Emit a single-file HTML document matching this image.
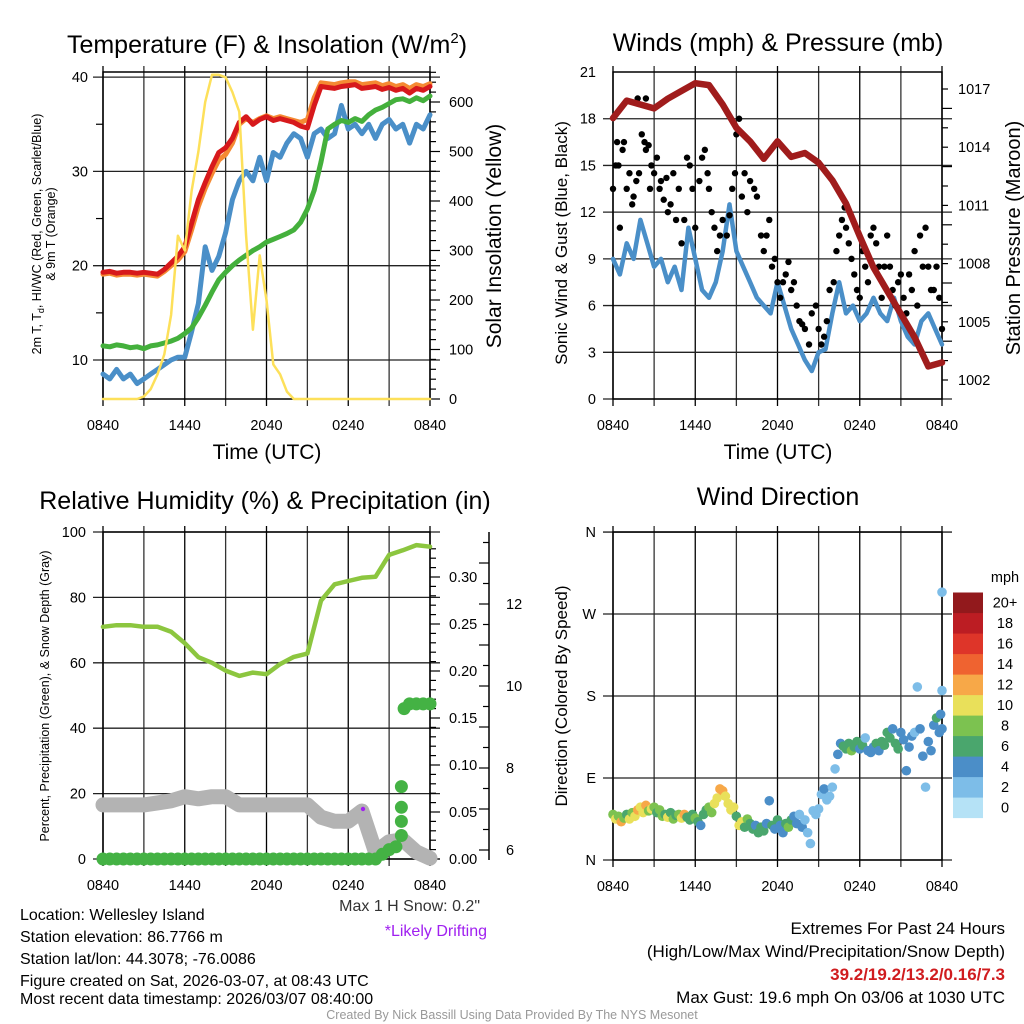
<!DOCTYPE html>
<html><head><meta charset="utf-8"><style>
html,body{margin:0;padding:0;background:#fff;}
svg{display:block;font-family:"Liberation Sans",sans-serif;}
</style></head><body>
<svg id="fig" width="1024" height="1024" viewBox="0 0 1024 1024" xmlns="http://www.w3.org/2000/svg">
<rect width="1024" height="1024" fill="#fff"/>
<g id="p1"></g>
<g id="p2"></g>
<g id="p3"></g>
<g id="p4"></g>
<g font-size="25" text-anchor="middle" fill="#000">
<text x="267" y="53">Temperature (F) &amp; Insolation (W/m<tspan font-size="15" dy="-10">2</tspan><tspan dy="10">)</tspan></text>
<text x="778" y="51">Winds (mph) &amp; Pressure (mb)</text>
<text x="265" y="509">Relative Humidity (%) &amp; Precipitation (in)</text>
<text x="778" y="505">Wind Direction</text>
</g>
<g font-size="21" text-anchor="middle">
<text x="267" y="459">Time (UTC)</text>
<text x="778" y="459">Time (UTC)</text>
<text transform="translate(501,236) rotate(-90)">Solar Insolation (Yellow)</text>
</g>
<text transform="translate(1020,238) rotate(-90)" font-size="20" text-anchor="middle">Station Pressure (Maroon)</text>
<g font-size="17" text-anchor="middle">
<text transform="translate(567,243) rotate(-90)">Sonic Wind &amp; Gust (Blue, Black)</text>
<text transform="translate(567,696) rotate(-90)">Direction (Colored By Speed)</text>
</g>
<g font-size="12.5" text-anchor="middle">
<text transform="translate(41,234) rotate(-90)">2m T, T<tspan font-size="9" dy="3">d</tspan><tspan dy="-3">, HI/WC (Red, Green, Scarlet/Blue)</tspan></text>
<text transform="translate(55,234) rotate(-90)">&amp; 9m T (Orange)</text>
<text transform="translate(49,696) rotate(-90)">Percent, Precipitation (Green), &amp; Snow Depth (Gray)</text>
</g>
<g font-size="16" fill="#000">
<text x="20" y="920">Location: Wellesley Island</text>
<text x="20" y="942">Station elevation: 86.7766 m</text>
<text x="20" y="964">Station lat/lon: 44.3078; -76.0086</text>
<text x="20" y="986">Figure created on Sat, 2026-03-07, at 08:43 UTC</text>
<text x="20" y="1004">Most recent data timestamp: 2026/03/07 08:40:00</text>
<text x="480" y="911" text-anchor="end" fill="#333">Max 1 H Snow: 0.2"</text>
<text x="487" y="936" text-anchor="end" fill="#a020f0">*Likely Drifting</text>
</g>
<g font-size="17" fill="#000" text-anchor="end">
<text x="1005" y="934">Extremes For Past 24 Hours</text>
<text x="1005" y="957">(High/Low/Max Wind/Precipitation/Snow Depth)</text>
<text x="1005" y="980" fill="#d01c1f" font-weight="bold">39.2/19.2/13.2/0.16/7.3</text>
<text x="1005" y="1003">Max Gust: 19.6 mph On 03/06 at 1030 UTC</text>
</g>
<text x="512" y="1019" font-size="12.5" fill="#999" text-anchor="middle">Created By Nick Bassill Using Data Provided By The NYS Mesonet</text>
</svg>
<script>
// ---------- data ----------
const xTickLabels = ["0840","1440","2040","0240","0840"];
const tempRed = [19.3,19.4,19.2,19.3,19.3,19.2,19.3,19.2,19.1,19.6,20.3,21.0,22.0,24.5,27.0,28.8,30.5,32.0,32.5,33.5,35.2,35.8,35.0,35.5,35.8,35.4,35.6,35.4,35.2,34.8,34.6,37.0,39.0,38.9,38.8,39.0,39.1,39.2,38.8,38.9,39.0,38.7,38.9,38.6,38.8,38.3,38.8,38.6,39.0];
const temp9m = [19.1,19.2,19.0,19.1,19.1,19.0,19.1,19.0,18.9,19.4,20.0,20.6,21.5,23.8,26.3,28.2,29.8,31.2,31.8,33.0,35.0,35.6,35.2,35.6,35.9,35.6,35.8,35.6,35.4,35.2,35.5,37.8,39.4,39.3,39.2,39.4,39.5,39.5,39.2,39.3,39.4,39.1,39.3,39.0,39.2,38.8,39.2,39.0,39.3];
const dewBlue = [8.5,8,9,8,8.5,7.5,8,8.5,9,9.5,10,10.3,10.3,13,16,22,19.5,21,23.5,27,29,30,29,31.5,29,32,31.5,33,34,33.5,31.5,34,34.5,33.5,34,37,34.5,35,34,35,33.5,35,35.5,34.5,35,33,35,34.5,36];
const chillGreen = [11.5,11.4,11.6,11.5,11.3,11.4,11.2,11.5,11.6,11.8,12,12.3,12.8,13.4,14.5,15.8,17.2,18.5,19.3,20,20.6,21.1,21.6,22,22.5,22.8,23.1,23.4,23.8,24.6,26,28,31,34.5,35,35.4,35.2,35.6,35.3,36,36.5,36.8,37.2,37.6,37.7,37.4,37.8,37.5,38];
const solar = [0,0,0,0,0,0,5,20,50,90,170,330,300,420,500,600,655,655,650,620,580,330,140,290,200,70,50,15,0,0,0,0,0,0,0,0,0,0,0,0,0,0,0,0,0,0,0,0,0];
const windSpeed = [9,8,10,9,11.5,10,8.5,9,7.5,8.5,7,11,9,7,6.5,7.5,9.5,12.5,9.5,8.5,7.5,6.5,6,5.5,7.5,6,4.5,3.5,2.5,1.8,3,3.2,5.5,7.5,5.5,6,5,5.5,6.5,5.5,5,6.5,5,4,3.5,5,5.5,4.5,3.5];
const pressure = [1015.5,1016.4,1016.2,1016.0,1016.5,1016.9,1017.3,1017.2,1016.2,1015.0,1014.3,1013.4,1014.3,1013.5,1013.7,1013.2,1012.3,1011.1,1009.4,1007.8,1006.6,1005.4,1004.2,1002.7,1002.9];
const gustT = [0,0.2,0.3,0.4,0.5,0.7,0.8,1.0,1.2,1.4,1.5,1.7,1.8,1.9,2.1,2.3,2.4,2.4,2.6,2.7,2.8,3.0,3.2,3.4,3.5,3.7,3.9,4.0,4.2,4.4,4.6,4.8,5.0,5.2,5.4,5.6,5.8,6.0,6.3,6.5,6.7,6.9,7.0,7.2,7.4,7.6,7.8,8.0,8.3,8.5,8.7,8.9,9.0,9.2,9.4,9.6,9.8,10,10.3,10.5,10.8,11.0,11.2,11.4,11.6,11.8,12.0,12.2,12.4,12.6,12.8,13.0,13.2,13.4,13.6,13.8,14.0,14.3,14.5,14.8,15.0,15.2,15.4,15.6,15.8,16.1,16.3,16.5,16.7,16.9,17.0,17.2,17.4,17.6,17.8,18.0,18.2,18.4,18.6,18.8,19.0,19.2,19.4,19.6,19.8,20.0,20.2,20.4,20.6,20.8,21.0,21.2,21.4,21.6,21.8,22.0,22.2,22.4,22.6,22.8,23.0,23.2,23.4,23.6,23.8,24.0];
const gustV = [13.5,15,16.5,15,11,16,16.5,13.5,14.5,12.5,13,14,19.3,14.5,17,16.5,16,19.3,16.3,13.5,15,14.5,15.5,13.5,14,12.8,14.2,12,12.5,14.5,11.5,13.5,10,11.5,15.5,15,13.5,11,14,15.5,16,14.5,13.5,12,11,9.5,10.5,11.5,10.5,11.8,13.5,14.5,17,18,13,14.5,12,14,13.5,13,10.5,9.5,10.5,11.5,8.5,9,7.5,6.5,7.5,8,8.8,7,7.5,6,5,4.8,4.5,3.5,5.5,6,4.5,3.5,4,5,7,7.5,9.5,10.5,11.5,12.3,11,10,9,8,7,6.5,9.5,8.5,7.5,10.5,11,10,8.5,6.5,8.5,10.5,8.5,7,6,7.5,8,6.5,5.5,8,7,9.5,6,10.5,8.5,11,8.5,7,7,8.5,6.5,4.5];
const rh = [71,71.5,71.5,71,71,69.5,66,61.7,60,57.6,56,57,56.5,59.6,61.8,62.8,79,84,85,86,86.3,93,94.4,96,95.5];
const snowDepth = [7.1,7.1,7.1,7.1,7.15,7.2,7.3,7.25,7.3,7.3,7.1,7.1,7.1,7.1,7.1,7.1,6.8,6.7,6.7,6.95,5.95,6.2,6.25,5.95,5.8];
const precipT = [0,0.5,1,1.5,2,2.5,3,3.5,4,4.5,5,5.5,6,6.5,7,7.5,8,8.5,9,9.5,10,10.5,11,11.5,12,12.5,13,13.5,14,14.5,15,15.5,16,16.5,17,17.5,18,18.5,19,19.5,20,20.5,21,21.5,21.9,21.9,21.9,21.9,22.1,22.5,23,23.5,24];
const precipV = [0,0,0,0,0,0,0,0,0,0,0,0,0,0,0,0,0,0,0,0,0,0,0,0,0,0,0,0,0,0,0,0,0,0,0,0,0,0,0,0,0,0.005,0.01,0.013,0.025,0.04,0.055,0.077,0.16,0.165,0.165,0.165,0.165];
const dirT = [0,0.2,0.4,0.6,0.8,1.0,1.2,1.4,1.6,1.8,2.0,2.2,2.4,2.6,2.8,3.0,3.2,3.4,3.6,3.8,4.0,4.2,4.4,4.6,4.8,5.0,5.2,5.4,5.6,5.8,6.0,6.2,6.4,6.6,6.8,7.0,7.2,7.4,7.6,7.8,8.0,8.2,8.4,8.6,8.8,9.0,9.2,9.4,9.6,9.8,10.0,10.2,10.4,10.6,10.8,11.0,11.2,11.4,11.6,11.8,12.0,12.2,12.4,12.6,12.8,13.0,13.2,13.4,13.6,13.8,14.0,14.2,14.4,14.6,14.8,15.0,15.2,15.4,15.6,15.8,16.0,16.2,16.4,16.6,16.8,17.0,17.2,17.4,17.6,17.8,18.0,18.2,18.4,18.6,18.8,19.0,19.2,19.4,19.6,19.8,20.0,20.2,20.4,20.6,20.8,21.0,21.2,21.4,21.6,21.8,22.0,22.2,22.4,22.6,22.8,23.0,23.2,23.4,23.6,23.8,24.0,23.9,24.0,24.0];
const dirV = [50,45,48,42,46,50,45,52,48,55,58,52,60,54,56,58,52,55,48,50,47,52,45,49,50,46,50,47,44,50,46,42,38,50,55,58,52,62,68,78,76,70,62,55,58,48,38,42,36,45,40,34,38,30,36,32,40,65,38,34,44,38,30,40,36,44,48,40,50,36,44,30,18,54,50,56,72,78,66,70,80,100,116,128,125,122,128,120,124,130,122,126,134,120,118,124,128,120,130,126,140,134,144,128,122,140,132,98,124,136,140,190,144,114,80,130,120,148,156,140,144,160,186,294];
const dirS = [8,10,9,12,8,7,11,9,10,12,10,11,13,9,10,8,7,8,9,7,10,6,8,7,9,11,12,6,7,6,8,6,5,7,6,8,9,10,11,13,12,11,11,10,11,6,10,10,7,9,6,6,5,6,7,6,5,5,7,5,6,4,4,6,8,7,5,4,3,5,3,3,2,3,2,3,3,4,3,2,3,3,5,4,7,6,7,9,6,7,5,6,2,4,5,4,6,4,7,6,6,7,5,6,7,4,5,4,4,5,3,2,4,4,2,4,4,5,7,4,4,4,2,2];
const speedBins = ["0","2","4","6","8","10","12","14","16","18","20+"];
const speedColors = ["#b5e2f6","#7dbde8","#4b8ec8","#4aa66d","#7cc250","#e9e05a","#f7a848","#ef6330","#de3529","#bc1d23","#92191c"];

// ---------- helpers ----------
const NS = "http://www.w3.org/2000/svg";
function mk(tag, attrs, parent){ const e=document.createElementNS(NS,tag); for(const k in attrs) e.setAttribute(k,attrs[k]); parent.appendChild(e); return e; }
const p1=document.getElementById('p1'), p2=document.getElementById('p2'), p3=document.getElementById('p3'), p4=document.getElementById('p4');

const xA = t => 103 + t*327/24;
const xB = t => 613 + t*329/24;
const yT = v => 360 - (v-10)*9.43;
const yS = w => 399 - w*0.495;
const yW = v => 399 - v*15.57;
const yP = p => 380 - (p-1002)*19.4;
const yRH = v => 859 - v*3.27;
const yPr = p => 859 - p*940;
const ySn = s => 850 - (s-6)*41;
const yD = d => 860 - d*0.911;

function frame(g, x0, x1, y0, y1, xf, hGrid, name){
  for(let k=0;k<=8;k++){
    const x = xf(k*3);
    const l = mk('line',{x1:x,x2:x,y1:y0-6,y2:y1+7,stroke:k%2?'#333':'#000','stroke-width':1.3},g);
    
    
  }
  hGrid.forEach(y=>{
    const l = mk('line',{x1:x0-10,x2:x1+10,y1:y,y2:y,stroke:'#222','stroke-width':1.3},g);
    
    
  });
  const r = mk('rect',{x:x0,y:y0,width:x1-x0,height:y1-y0,fill:'none',stroke:'#000','stroke-width':1.5},g);
  
  
  xTickLabels.forEach((s,i)=>{
    const t = mk('text',{x:xf(i*6),y:y1+31,'font-size':14.5,'text-anchor':'middle'},g);
    t.textContent=s;
    
    
  });
}
function label(g,x,y,s,anchor,size,name){
  const t = mk('text',{x:x,y:y+5,'font-size':size||14,'text-anchor':anchor},g);
  t.textContent=s;
  
  
}
function tick(g,x1,x2,y,name){
  const l = mk('line',{x1:x1,x2:x2,y1:y,y2:y,stroke:'#000','stroke-width':1.2},g);
  
  
}
function series(g, vals, xf, yf, step, color, w, name){
  const pts = vals.map((v,i)=>xf(i*step).toFixed(1)+','+yf(v).toFixed(1)).join(' ');
  const l = mk('polyline',{points:pts,fill:'none',stroke:color,'stroke-width':w,'stroke-linejoin':'round','stroke-linecap':'round'},g);
  
  
}

// ---------- panel 1 ----------
frame(p1,103,430,72,399,xA,[10,20,30,40].map(yT),'temp');
[10,20,30,40].forEach(v=>label(p1,88,yT(v),String(v),'end',14.5,'temp-y-tick-label'));
[15,25,35].forEach(v=>tick(p1,96,103,yT(v),'temp-y-minor-tick'));
for(let w=0;w<=660;w+=20){ tick(p1,430,w%100===0?440:436,yS(w),'solar-tick'); }
[0,100,200,300,400,500,600].forEach(w=>label(p1,449,yS(w),String(w),'start',14.5,'solar-tick-label'));
series(p1,temp9m,xA,yT,0.5,'#f58a33',5,'temp-9m-line');
series(p1,tempRed,xA,yT,0.5,'#d7191c',5,'temp-2m-line');
series(p1,dewBlue,xA,yT,0.5,'#4a8fc8',5,'dewpoint-line');
series(p1,chillGreen,xA,yT,0.5,'#44b03c',5,'windchill-line');
series(p1,solar,xA,yS,0.5,'#fde05a',2.5,'solar-line');

// ---------- panel 2 ----------
frame(p2,613,942,72,399,xB,[0,3,6,9,12,15,18].map(yW),'wind');
[0,3,6,9,12,15,18,21].forEach(v=>label(p2,596,yW(v),String(v),'end',14.5,'wind-y-tick-label'));
for(let p=1002;p<=1017;p+=1){ tick(p2,942,p%3===2?952:948,yP(p),'pressure-tick'); }
[1002,1005,1008,1011,1014,1017].forEach(p=>label(p2,958,yP(p),String(p),'start',14.5,'pressure-tick-label'));
series(p2,windSpeed,xB,yW,0.5,'#4a8fc8',4.5,'wind-speed-line');
gustT.forEach((t,i)=>{
  const c = mk('circle',{cx:xB(t),cy:yW(gustV[i]),r:3.2,fill:'#000'},p2);
  
  
});
series(p2,pressure,xB,yP,1,'#a01c1c',6.5,'pressure-line');

// ---------- panel 3 ----------
frame(p3,103,430,532,859,xA,[0,20,40,60,80,100].map(yRH),'humidity');
[0,20,40,60,80,100].forEach(v=>label(p3,86,yRH(v),String(v),'end',14.5,'humidity-y-tick-label'));
for(let p=0;p<=0.34;p+=0.01){ tick(p3,430,Math.round(p*100)%5===0?440:436,yPr(p),'precip-tick'); }
[0,0.05,0.10,0.15,0.20,0.25,0.30].forEach(p=>label(p3,449,yPr(p),p.toFixed(2),'start',14.5,'precip-tick-label'));
const sa = mk('line',{x1:489,x2:489,y1:532,y2:860,stroke:'#000','stroke-width':1.5},p3);


for(let s=6;s<=13.5;s+=0.5){ tick(p3,Number.isInteger(s)?479:483,489,ySn(s),'snow-tick'); }
[6,8,10,12].forEach(s=>label(p3,506,ySn(s),String(s),'start',14.5,'snow-tick-label'));
series(p3,snowDepth,xA,ySn,1,'#b3b3b3',15,'snow-depth-line');
series(p3,rh,xA,yRH,1,'#8cc63f',4.5,'humidity-line');
precipT.forEach((t,i)=>{
  const c = mk('circle',{cx:xA(t),cy:yPr(precipV[i]),r:6.5,fill:'#44b244'},p3);
  
  
});
const dr = mk('circle',{cx:363,cy:809,r:2.2,fill:'#a020f0'},p3);



// ---------- panel 4 ----------
frame(p4,613,942,532,860,xB,[0,90,180,270,360].map(yD),'direction');
["N","E","S","W","N"].forEach((s,i)=>label(p4,596,yD(i*90),s,'end',14.5,'direction-y-tick-label'));
function binColor(s){ let i=Math.floor(s/2); if(i>10) i=10; return speedColors[i]; }
dirT.forEach((t,i)=>{
  const c = mk('circle',{cx:xB(t),cy:yD(dirV[i]),r:4.8,fill:binColor(dirS[i])},p4);
  
  
});
label(p4,1005,577,'mph','middle',14.5,'colorbar-title');
speedBins.forEach((s,i)=>{
  const y = 818 - (i+1)*20.5;
  const r = mk('rect',{x:953,y:y,width:30,height:20.6,fill:speedColors[i]},p4);
  
  
  label(p4,1005,y+10.2,s,'middle',14.5,'colorbar-label');
});
</script>
</body></html>
